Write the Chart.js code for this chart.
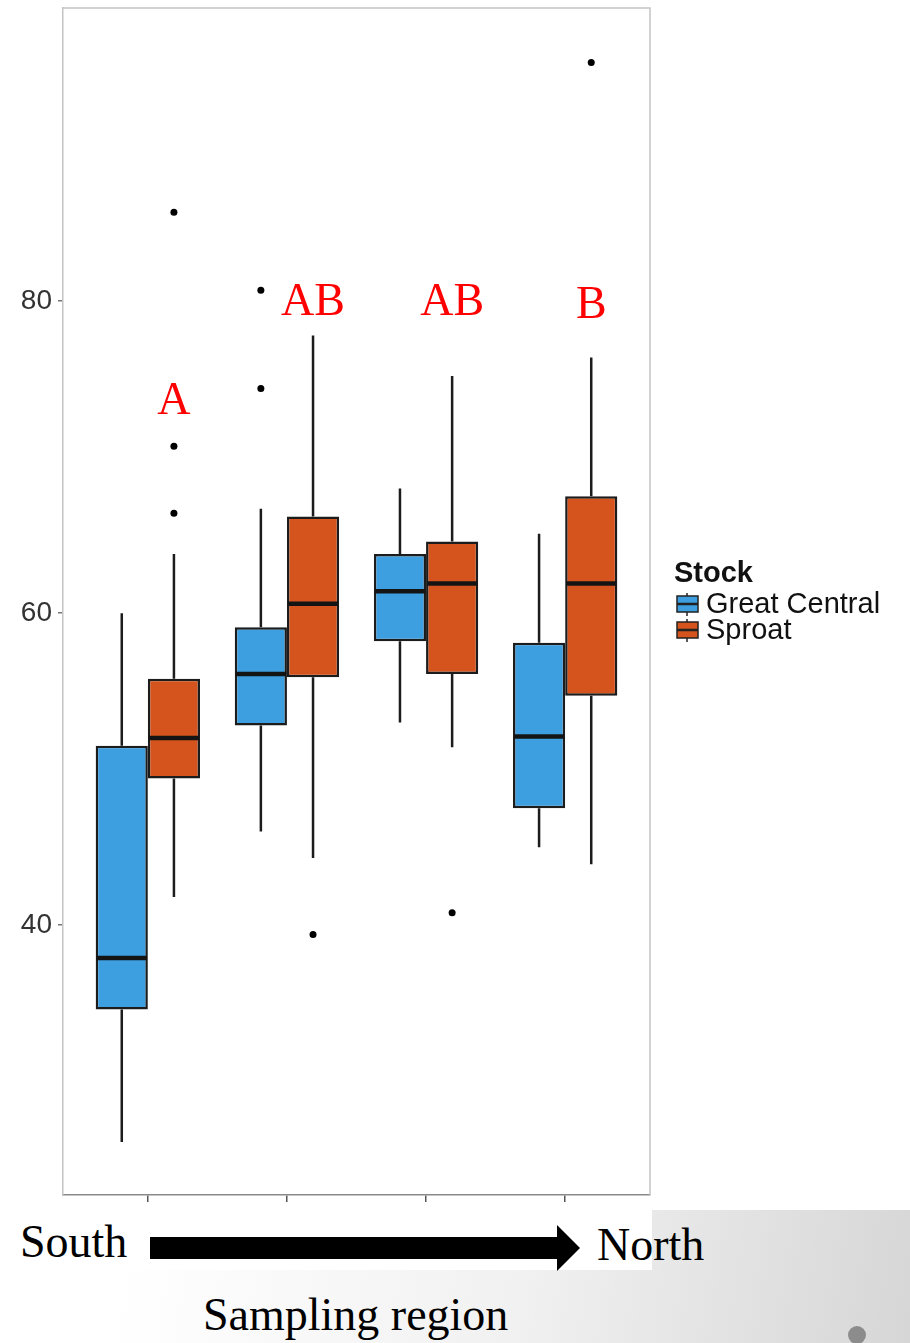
<!DOCTYPE html>
<html>
<head>
<meta charset="utf-8">
<title>Stock by sampling region</title>
<script src="https://cdn.jsdelivr.net/npm/chart.js@4.4.1/dist/chart.umd.min.js"></script>
<style>
  html, body { margin: 0; padding: 0; }
  body {
    width: 910px; height: 1343px; overflow: hidden; position: relative;
    background: linear-gradient(100deg, #ffffff 30%, #f1f1f1 65%, #d6d6d6 100%);
  }
  #plot { position: absolute; left: 0; top: 0; width: 910px; height: 1210px; background: #fff; }
  #bottom { position: absolute; left: 0; top: 1210px; }
  #bottom text { font-family: "Liberation Serif", "DejaVu Serif", serif; font-size: 46px; fill: #000; }
</style>
</head>
<body>
<div id="plot"><canvas id="myChart" width="910" height="1210"></canvas></div>
<svg id="bottom" width="910" height="133">
  <rect x="0" y="0" width="652" height="60" fill="#fff"></rect>
  <text x="20" y="47">South</text>
  <polygon points="150,27 557,27 557,15 580,38 557,61 557,49 150,49" fill="#000"></polygon>
  <text x="597" y="50">North</text>
  <text x="203" y="120">Sampling region</text>
  <circle cx="857" cy="125" r="9" fill="#8c8c8c"></circle>
</svg>
<script>
"use strict";

// regions go south -> north, no tick labels on the picture
const regions = ["Region 1", "Region 2", "Region 3", "Region 4"];
const regionPositions = [0, 1, 2, 3];
const yTicks = [40, 60, 80];

const stockNames = ["Great Central", "Sproat"];
const stockColors = ["#3d9fe0", "#d5541d"];

// Great Central
const gcLow = [26.1, 46.0, 53.0, 45.0];
const gcQ1 = [34.6, 52.8, 58.2, 47.5];
const gcMedian = [37.9, 56.1, 61.4, 52.1];
const gcQ3 = [51.5, 59.1, 63.8, 58.1];
const gcHigh = [60.0, 66.7, 68.0, 65.1];
const gcOutliers = [[], [80.7, 74.4], [], []];

// Sproat
const spLow = [41.8, 44.3, 51.4, 43.9];
const spQ1 = [49.4, 55.9, 56.1, 54.7];
const spMedian = [52.0, 60.6, 61.9, 61.9];
const spQ3 = [55.8, 66.2, 64.6, 67.5];
const spHigh = [63.8, 77.8, 75.2, 76.4];
const spOutliers = [[85.7, 70.7, 66.4], [39.4], [40.8], [95.3]];

// significance letters, placed over the Sproat boxes
const letters = ["A", "AB", "AB", "B"];
const letterValues = [72.8, 79.1, 79.1, 78.9];

const stocks = [
  { low: gcLow, q1: gcQ1, median: gcMedian, q3: gcQ3, high: gcHigh, outliers: gcOutliers },
  { low: spLow, q1: spQ1, median: spMedian, q3: spQ3, high: spHigh, outliers: spOutliers },
];

function boxData(q1, q3) {
  return regionPositions.map((x, i) => ({ x: x, y: [q1[i], q3[i]] }));
}

function drawLegend(ctx) {
  ctx.textAlign = "left";
  ctx.textBaseline = "alphabetic";
  ctx.fillStyle = "#111";
  ctx.font = 'bold 29px "Liberation Sans", Arial, sans-serif';
  ctx.fillText("Stock", 674, 582);
  for (let d = 0; d < stockNames.length; d++) {
    const top = 596 + d * 26;
    ctx.strokeStyle = "#222";
    ctx.lineWidth = 1.5;
    ctx.beginPath();
    ctx.moveTo(687, top - 3);
    ctx.lineTo(687, top + 20);
    ctx.stroke();
    ctx.fillStyle = stockColors[d];
    ctx.fillRect(677, top, 21, 16);
    ctx.strokeRect(677, top, 21, 16);
    ctx.lineWidth = 2.5;
    ctx.beginPath();
    ctx.moveTo(677, top + 8);
    ctx.lineTo(698, top + 8);
    ctx.stroke();
    ctx.fillStyle = "#111";
    ctx.font = '29px "Liberation Sans", Arial, sans-serif';
    ctx.fillText(stockNames[d], 706, top + 17);
  }
}

const boxParts = {
  id: "boxParts",
  beforeDatasetsDraw(chart) {
    const ctx = chart.ctx;
    const yScale = chart.scales.y;
    const area = chart.chartArea;
    ctx.save();
    // rest of the panel frame
    ctx.strokeStyle = "#c4c4c4";
    ctx.lineWidth = 1.5;
    ctx.beginPath();
    ctx.moveTo(area.left, area.top);
    ctx.lineTo(area.right, area.top);
    ctx.lineTo(area.right, area.bottom);
    ctx.stroke();
    // whiskers
    ctx.strokeStyle = "#1c1c1c";
    ctx.lineWidth = 2.5;
    stocks.forEach((s, d) => {
      chart.getDatasetMeta(d).data.forEach((bar, i) => {
        ctx.beginPath();
        ctx.moveTo(bar.x, yScale.getPixelForValue(s.high[i]));
        ctx.lineTo(bar.x, yScale.getPixelForValue(s.q3[i]));
        ctx.moveTo(bar.x, yScale.getPixelForValue(s.q1[i]));
        ctx.lineTo(bar.x, yScale.getPixelForValue(s.low[i]));
        ctx.stroke();
      });
    });
    ctx.restore();
  },
  afterDatasetsDraw(chart) {
    const ctx = chart.ctx;
    const yScale = chart.scales.y;
    ctx.save();
    stocks.forEach((s, d) => {
      chart.getDatasetMeta(d).data.forEach((bar, i) => {
        // median
        const my = yScale.getPixelForValue(s.median[i]);
        ctx.strokeStyle = "#141414";
        ctx.lineWidth = 4.5;
        ctx.beginPath();
        ctx.moveTo(bar.x - bar.width / 2 + 1, my);
        ctx.lineTo(bar.x + bar.width / 2 - 1, my);
        ctx.stroke();
        // outliers
        ctx.fillStyle = "#000";
        s.outliers[i].forEach((v) => {
          ctx.beginPath();
          ctx.arc(bar.x, yScale.getPixelForValue(v), 3.5, 0, Math.PI * 2);
          ctx.fill();
        });
      });
    });
    // letters
    ctx.fillStyle = "#ff0000";
    ctx.font = '46px "Liberation Serif", "DejaVu Serif", serif';
    ctx.textAlign = "center";
    ctx.textBaseline = "alphabetic";
    chart.getDatasetMeta(1).data.forEach((bar, i) => {
      ctx.fillText(letters[i], bar.x, yScale.getPixelForValue(letterValues[i]));
    });
    drawLegend(ctx);
    ctx.restore();
  },
};

const config = {
  type: "bar",
  data: {
    datasets: [
      {
        label: stockNames[0],
        data: boxData(gcQ1, gcQ3),
        backgroundColor: stockColors[0],
        borderColor: "#1c1c1c",
        borderWidth: 2.5,
        borderSkipped: false,
      },
      {
        label: stockNames[1],
        data: boxData(spQ1, spQ3),
        backgroundColor: stockColors[1],
        borderColor: "#1c1c1c",
        borderWidth: 2.5,
        borderSkipped: false,
      },
    ],
  },
  options: {
    responsive: false,
    animation: false,
    categoryPercentage: 0.75,
    barPercentage: 1,
    layout: { padding: { top: 8, right: 260, bottom: 0, left: 0 } },
    plugins: {
      legend: { display: false },
      tooltip: { enabled: false },
    },
    scales: {
      x: {
        type: "linear",
        min: -0.61,
        max: 3.61,
        offset: false,
        afterBuildTicks(scale) {
          scale.ticks = regionPositions.map((v) => ({ value: v }));
        },
        afterFit(scale) {
          scale.height = 15;
          scale.paddingLeft = 0;
          scale.paddingRight = 0;
        },
        ticks: { display: false },
        grid: { offset: false, drawOnChartArea: false, drawTicks: true, tickLength: 7, color: "#555", lineWidth: 1.5 },
        border: { display: true, color: "#8a8a8a", width: 1.5 },
      },
      y: {
        min: 22.7,
        max: 98.8,
        beginAtZero: false,
        afterBuildTicks(scale) {
          scale.ticks = yTicks.map((v) => ({ value: v }));
        },
        afterFit(scale) {
          scale.width = 63;
          scale.paddingTop = 0;
          scale.paddingBottom = 0;
        },
        ticks: {
          padding: 6,
          color: "#333",
          font: { family: '"Liberation Sans", Arial, sans-serif', size: 28 },
        },
        grid: { drawOnChartArea: false, drawTicks: true, tickLength: 5, color: "#777", lineWidth: 1.5 },
        border: { display: true, color: "#c4c4c4", width: 1.5 },
      },
    },
  },
  plugins: [boxParts],
};

const canvasChart = document.getElementById("myChart");
new Chart(canvasChart, config);
</script>
</body>
</html>
